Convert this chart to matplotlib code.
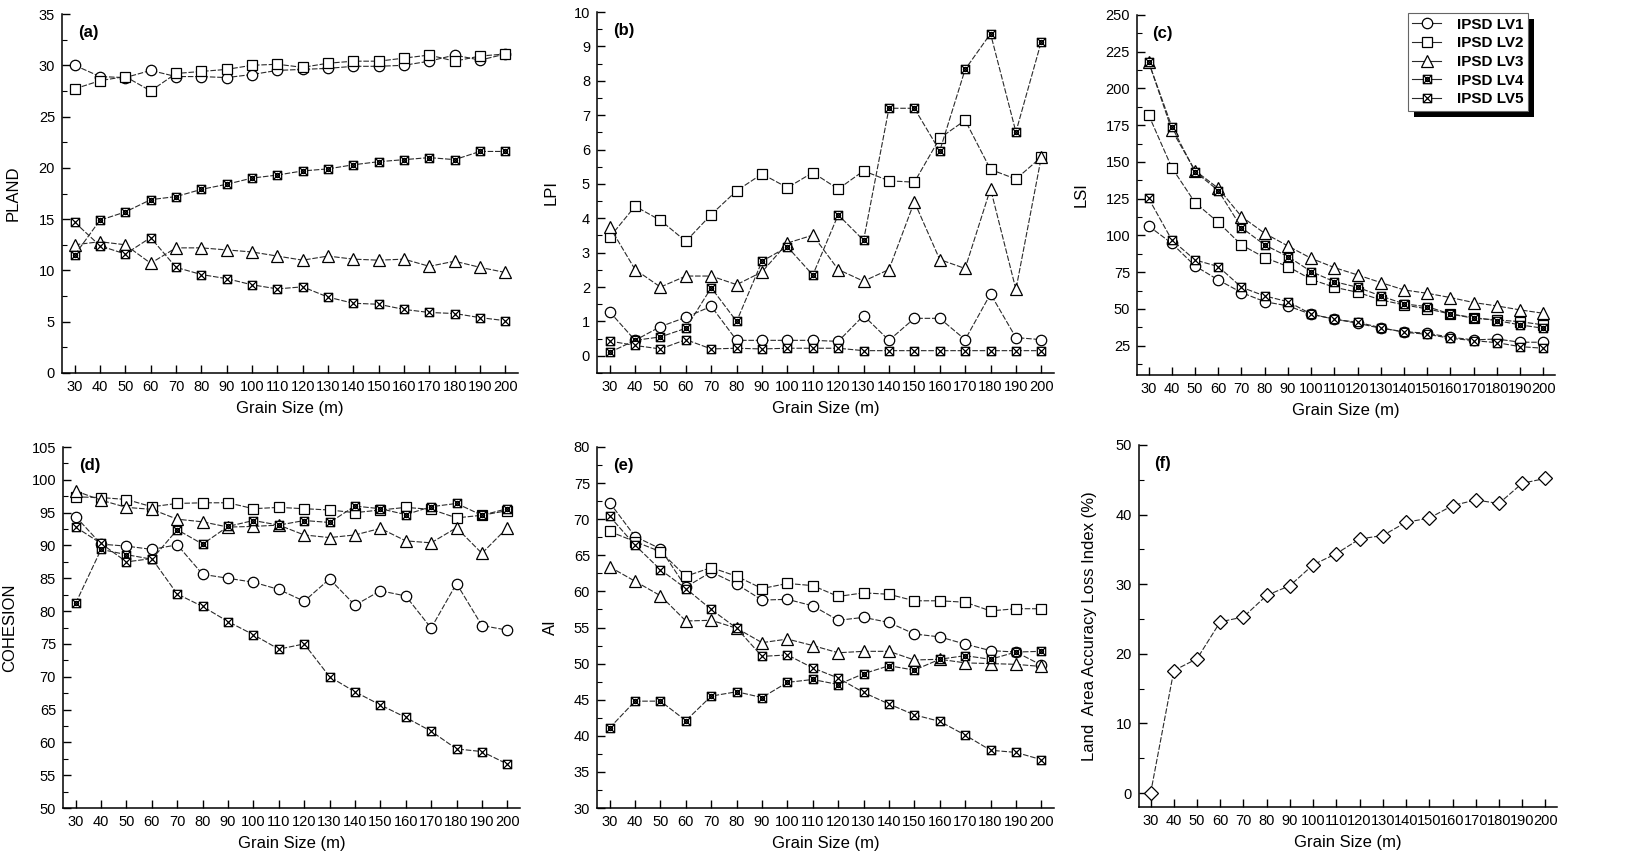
import numpy as np
import matplotlib
matplotlib.use('Agg')
import matplotlib.pyplot as plt
from matplotlib.path import Path
from matplotlib.lines import Line2D
from matplotlib.patches import Rectangle
from matplotlib.ticker import MultipleLocator

plt.rcParams['font.family'] = ['Liberation Sans', 'DejaVu Sans']

# ---------------- data ----------------
grain = [30, 40, 50, 60, 70, 80, 90, 100, 110, 120, 130, 140, 150, 160, 170, 180, 190, 200]
series_names = ['IPSD LV1', 'IPSD LV2', 'IPSD LV3', 'IPSD LV4', 'IPSD LV5']

pland_lv1 = [30.0, 28.9, 28.8, 29.5, 28.9, 28.9, 28.8, 29.1, 29.5, 29.6, 29.7, 29.9, 29.9, 30.0, 30.4, 31.0, 30.5, 31.1]
pland_lv2 = [27.7, 28.5, 28.9, 27.5, 29.2, 29.4, 29.6, 30.0, 30.1, 29.8, 30.2, 30.4, 30.4, 30.7, 31.0, 30.4, 30.9, 31.1]
pland_lv3 = [12.5, 12.8, 12.5, 10.7, 12.2, 12.2, 12.0, 11.8, 11.4, 11.0, 11.4, 11.1, 11.0, 11.1, 10.4, 10.9, 10.3, 9.8]
pland_lv4 = [11.5, 14.9, 15.7, 16.9, 17.2, 17.9, 18.4, 19.0, 19.3, 19.7, 19.9, 20.3, 20.6, 20.8, 21.0, 20.8, 21.6, 21.6]
pland_lv5 = [14.7, 12.4, 11.6, 13.2, 10.3, 9.6, 9.2, 8.6, 8.2, 8.4, 7.4, 6.8, 6.7, 6.2, 5.9, 5.8, 5.4, 5.1]

lpi_lv1 = [1.28, 0.45, 0.85, 1.12, 1.44, 0.45, 0.45, 0.45, 0.45, 0.42, 1.17, 0.45, 1.09, 1.09, 0.47, 1.80, 0.53, 0.47]
lpi_lv2 = [3.45, 4.35, 3.94, 3.33, 4.11, 4.80, 5.29, 4.89, 5.33, 4.85, 5.38, 5.09, 5.05, 6.33, 6.85, 5.42, 5.14, 5.78]
lpi_lv3 = [3.75, 2.51, 2.00, 2.32, 2.32, 2.07, 2.44, 3.28, 3.51, 2.51, 2.17, 2.51, 4.48, 2.80, 2.54, 4.86, 1.93, 5.78]
lpi_lv4 = [0.10, 0.45, 0.55, 0.80, 1.98, 1.00, 2.75, 3.17, 2.35, 4.10, 3.36, 7.20, 7.20, 5.96, 8.33, 9.37, 6.51, 9.14]
lpi_lv5 = [0.43, 0.30, 0.20, 0.47, 0.20, 0.22, 0.20, 0.22, 0.22, 0.22, 0.15, 0.15, 0.15, 0.15, 0.15, 0.15, 0.15, 0.15]

lsi_lv1 = [106.4, 94.6, 79.2, 69.7, 61.1, 54.9, 52.0, 46.3, 43.1, 40.2, 36.8, 34.5, 33.4, 30.7, 28.9, 29.5, 27.3, 27.3]
lsi_lv2 = [182.0, 146.1, 122.3, 108.9, 93.5, 84.9, 78.8, 70.1, 64.7, 61.3, 56.1, 52.7, 50.0, 46.5, 43.6, 42.5, 41.3, 39.1]
lsi_lv3 = [218.2, 171.7, 144.1, 132.1, 112.8, 101.4, 92.8, 84.4, 78.1, 73.1, 67.9, 62.9, 60.6, 57.7, 54.3, 52.0, 49.3, 47.0]
lsi_lv4 = [218.0, 174.0, 143.4, 130.5, 105.3, 93.5, 85.6, 75.4, 68.5, 64.7, 58.8, 53.4, 51.5, 46.5, 44.1, 42.0, 39.1, 36.8]
lsi_lv5 = [125.2, 96.9, 83.3, 78.8, 64.7, 58.8, 54.9, 46.5, 42.9, 40.9, 37.2, 34.1, 32.7, 30.0, 28.4, 27.0, 24.3, 23.2]

coh_lv1 = [94.4, 90.2, 89.9, 89.4, 90.1, 85.6, 85.0, 84.4, 83.3, 81.5, 84.9, 80.9, 83.1, 82.3, 77.4, 84.2, 77.8, 77.1]
coh_lv2 = [97.4, 97.3, 97.0, 95.9, 96.4, 96.5, 96.5, 95.6, 95.8, 95.6, 95.4, 95.0, 95.4, 95.8, 95.5, 94.2, 94.6, 95.3]
coh_lv3 = [98.3, 96.9, 95.8, 95.5, 94.0, 93.6, 92.8, 92.9, 93.1, 91.6, 91.2, 91.6, 92.6, 90.7, 90.4, 92.7, 88.8, 92.7]
coh_lv4 = [81.2, 89.4, 88.6, 87.9, 92.4, 90.2, 92.9, 93.8, 93.1, 93.8, 93.5, 96.0, 95.6, 94.7, 95.9, 96.4, 94.6, 95.6]
coh_lv5 = [92.8, 90.3, 87.5, 88.0, 82.6, 80.7, 78.4, 76.4, 74.2, 75.0, 70.0, 67.7, 65.7, 63.8, 61.7, 59.0, 58.6, 56.7]

ai_lv1 = [72.3, 67.6, 65.9, 60.6, 62.7, 61.0, 58.8, 58.9, 58.0, 56.0, 56.4, 55.7, 54.1, 53.7, 52.7, 51.8, 51.6, 49.8]
ai_lv2 = [68.3, 66.9, 65.5, 62.1, 63.3, 62.1, 60.4, 61.1, 60.8, 59.3, 59.8, 59.6, 58.7, 58.7, 58.5, 57.3, 57.6, 57.6]
ai_lv3 = [63.4, 61.4, 59.4, 55.9, 56.0, 54.9, 52.9, 53.4, 52.5, 51.5, 51.7, 51.7, 50.5, 50.6, 50.1, 50.0, 49.9, 49.6]
ai_lv4 = [41.1, 44.8, 44.8, 42.1, 45.5, 46.1, 45.3, 47.4, 47.8, 47.1, 48.6, 49.7, 49.1, 50.6, 51.1, 50.6, 51.6, 51.7]
ai_lv5 = [70.4, 66.4, 63.0, 60.4, 57.5, 54.9, 51.0, 51.2, 49.4, 48.0, 46.0, 44.4, 42.9, 42.0, 40.1, 38.0, 37.7, 36.7]

laali = [0.0, 17.6, 19.3, 24.6, 25.3, 28.4, 29.8, 32.8, 34.4, 36.5, 37.0, 38.9, 39.5, 41.3, 42.1, 41.6, 44.5, 45.2]

yticks_a = [0, 5, 10, 15, 20, 25, 30, 35]
yticks_b = [0, 1, 2, 3, 4, 5, 6, 7, 8, 9, 10]
yticks_c = [25, 50, 75, 100, 125, 150, 175, 200, 225, 250]
yticks_d = [50, 55, 60, 65, 70, 75, 80, 85, 90, 95, 100, 105]
yticks_e = [30, 35, 40, 45, 50, 55, 60, 65, 70, 75, 80]
yticks_f = [0, 10, 20, 30, 40, 50]

# ---------------- markers ----------------
M, L, C = Path.MOVETO, Path.LINETO, Path.CLOSEPOLY
box_x = Path([(-1, -1), (1, -1), (1, 1), (-1, 1), (-1, -1),
              (-1, -1), (1, 1), (-1, 1), (1, -1)],
             [M, L, L, L, C, M, L, M, L])
circ = Path.circle((0, 0), 0.5)
box_x_circ = Path.make_compound_path(box_x, circ)

mstyles = [
    dict(marker='o', markersize=7.5),
    dict(marker='s', markersize=6.5),
    dict(marker='^', markersize=8.5),
    dict(marker=box_x_circ, markersize=6),
    dict(marker=box_x, markersize=6),
]
common = dict(color='#2a2a2a', lw=0.8, ls=(0, (5, 1.6)), mfc='white', mec='black', mew=0.9)

W, H = 1633, 857
fig = plt.figure(figsize=(W / 100, H / 100), dpi=100)


def add_ax(l, r, t, b):
    return fig.add_axes([l / W, (H - b) / H, (r - l) / W, (b - t) / H])


def style_ax(ax, ylim, yticks, minor, ylabel, tag, ylabel_x):
    ax.set_xlim(25, 205)
    ax.set_xticks(grain)
    ax.set_ylim(*ylim)
    ax.set_yticks(yticks)
    ax.yaxis.set_minor_locator(MultipleLocator(minor))
    for s in ('top', 'right'):
        ax.spines[s].set_visible(False)
    for s in ('left', 'bottom'):
        ax.spines[s].set_linewidth(1.1)
    ax.tick_params(which='major', direction='in', length=6, width=1.0, labelsize=10.5, pad=5)
    ax.tick_params(which='minor', direction='in', length=3.5, width=0.8)
    ax.set_xlabel('Grain Size (m)', fontsize=12, labelpad=5)
    ax.set_ylabel(ylabel, fontsize=12)
    ax.yaxis.set_label_coords(ylabel_x, 0.5)
    ax.text(0.035, 0.97, tag, transform=ax.transAxes, fontsize=12, fontweight='bold',
            va='top', ha='left')


def plot_series(ax, data):
    for vals, ms in zip(data, mstyles):
        ax.plot(grain, vals, **common, **ms)


ax_a = add_ax(62, 518, 14, 373)
plot_series(ax_a, [pland_lv1, pland_lv2, pland_lv3, pland_lv4, pland_lv5])
style_ax(ax_a, (0, 35), yticks_a, 2.5, 'PLAND', '(a)', -0.09)

ax_b = add_ax(597, 1054, 12, 373)
plot_series(ax_b, [lpi_lv1, lpi_lv2, lpi_lv3, lpi_lv4, lpi_lv5])
style_ax(ax_b, (-0.5, 10), yticks_b, 0.5, 'LPI', '(b)', -0.085)

ax_c = add_ax(1137, 1555, 15, 375)
plot_series(ax_c, [lsi_lv1, lsi_lv2, lsi_lv3, lsi_lv4, lsi_lv5])
style_ax(ax_c, (5, 250), yticks_c, 12.5, 'LSI', '(c)', -0.115)

ax_d = add_ax(63, 520, 447, 808)
plot_series(ax_d, [coh_lv1, coh_lv2, coh_lv3, coh_lv4, coh_lv5])
style_ax(ax_d, (50, 105), yticks_d, 2.5, 'COHESION', '(d)', -0.1)

ax_e = add_ax(597, 1054, 447, 808)
plot_series(ax_e, [ai_lv1, ai_lv2, ai_lv3, ai_lv4, ai_lv5])
style_ax(ax_e, (30, 80), yticks_e, 2.5, 'AI', '(e)', -0.085)

ax_f = add_ax(1139, 1557, 445, 807)
ax_f.plot(grain, laali, marker='D', markersize=7.5, **common)
style_ax(ax_f, (-2, 50), yticks_f, 5, 'Land  Area Accuracy Loss Index (%)', '(f)', -0.1)

# legend (proxy handles drawn with solid lines, as in the reference)
handles = [Line2D([], [], color='#2a2a2a', lw=0.8, mfc='white', mec='black', mew=0.9, **ms)
           for ms in mstyles]
leg = ax_c.legend(handles, series_names, loc='upper right', bbox_to_anchor=(0.935, 1.005),
                  frameon=True, fancybox=False, edgecolor='#666666', framealpha=1,
                  prop={'weight': 'bold', 'size': 11}, handlelength=1.9,
                  handletextpad=1.0, labelspacing=0.3, borderpad=0.3, borderaxespad=0)
leg.get_frame().set_linewidth(0.8)
leg.set_zorder(6)

fig.canvas.draw()
bb = leg.get_window_extent()
ax_c.add_patch(Rectangle((bb.x0 + 6, bb.y0 - 6), bb.width, bb.height, transform=None,
                         facecolor='black', edgecolor='none', zorder=5.5, clip_on=False))

fig.savefig('out.png', dpi=100, facecolor='white')
